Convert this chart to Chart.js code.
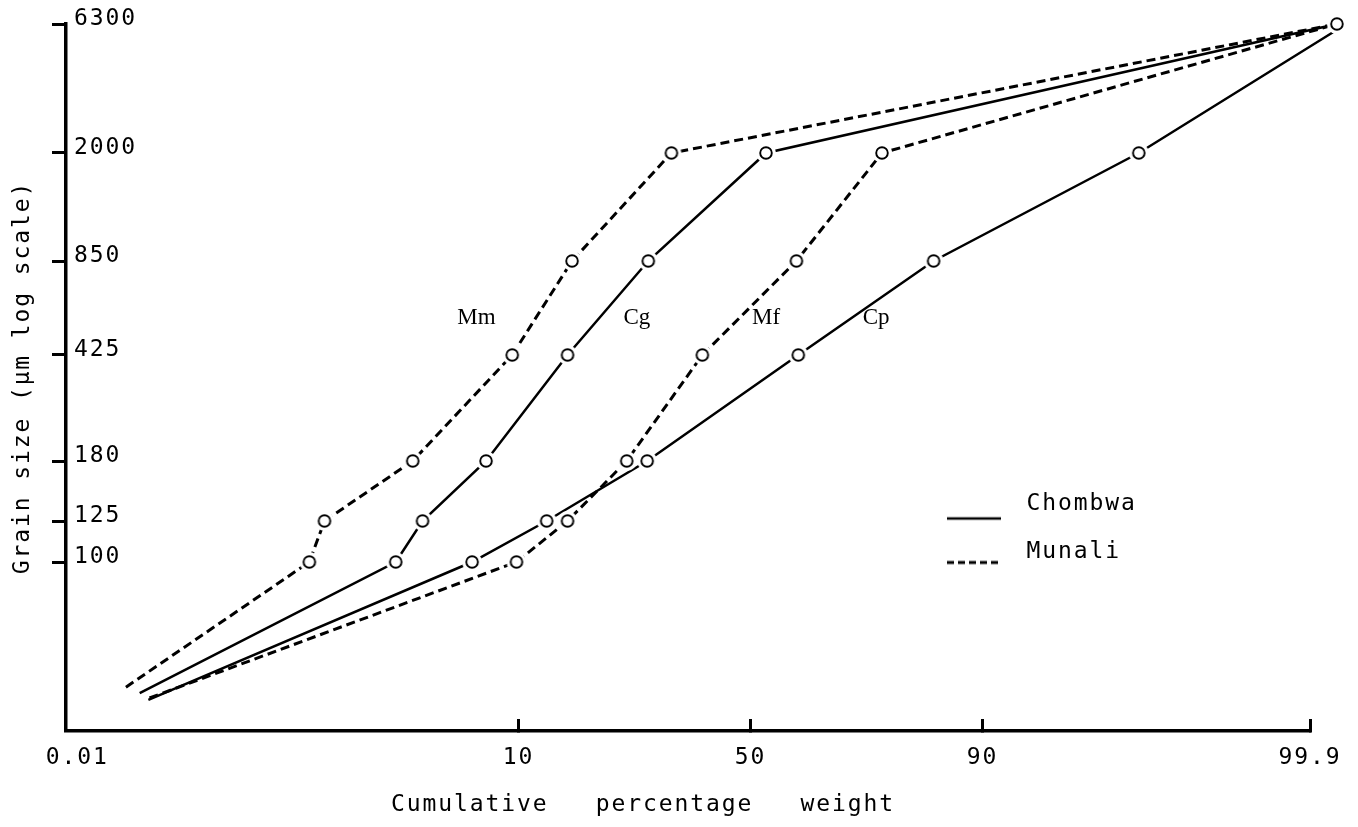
<!DOCTYPE html>
<html>
<head>
<meta charset="utf-8">
<script src="https://cdn.jsdelivr.net/npm/chart.js@4.4.1/dist/chart.umd.min.js"></script>
<style>
html,body{margin:0;padding:0;background:#fff;}
canvas{display:block;}
</style>
</head>
<body>
<canvas id="c" width="1358" height="827"></canvas>
<script>
// ---------------- data ----------------
const seriesNames = ['Mm', 'Cg', 'Mf', 'Cp'];
const seriesSite  = ['Munali', 'Chombwa', 'Munali', 'Chombwa'];

// cumulative percentage weight (%) and grain size (µm)
const mmPct  = [0.028, 0.74, 0.93, 3.1, 9.4, 16.2, 33.1, 99.94];
const mmSize = [50.6, 100, 125, 180, 425, 850, 2000, 6300];
const cgPct  = [0.037, 2.5, 3.5, 7.2, 15.6, 28.6, 53.4, 99.94];
const cgSize = [49, 100, 125, 180, 425, 850, 2000, 6300];
const mfPct  = [0.045, 9.8, 15.6, 24.7, 39.5, 60.0, 76.6, 99.94];
const mfSize = [47.7, 100, 125, 180, 425, 850, 2000, 6300];
const cpPct  = [0.044, 6.2, 13.0, 28.4, 60.4, 84.4, 98.4, 99.95];
const cpSize = [47.2, 100, 125, 180, 425, 850, 2000, 6300];

// axis definitions
const xTickPct    = [0.01, 10, 50, 90, 99.9];
const xTickLabels = ['0.01', '10', '50', '90', '99.9'];
const xAxisMinPct = 0.0078;
const yTickSizes  = [100, 125, 180, 425, 850, 2000, 6300];
const yTickLabels = ['100', '125', '180', '425', '850', '2000', '6300'];
// hand-ruled (non-uniform) positions of the sieve sizes on the original axis
const yTickLevels = [169, 210, 270, 376, 470, 578, 707];

// curve labels (placed in data space)
const labelPct  = [6.5, 26.5, 53.4, 75.6];
const labelSize = [560, 560, 560, 560];

const legendNames = ['Chombwa', 'Munali'];

// ---------------- transforms ----------------
function probit(p) {
  const a = [-3.969683028665376e+01, 2.209460984245205e+02, -2.759285104469687e+02, 1.383577518672690e+02, -3.066479806614716e+01, 2.506628277459239e+00];
  const b = [-5.447609879822406e+01, 1.615858368580409e+02, -1.556989798598866e+02, 6.680131188771972e+01, -1.328068155288572e+01];
  const c = [-7.784894002430293e-03, -3.223964580411365e-01, -2.400758277161838e+00, -2.549732539343734e+00, 4.374664141464968e+00, 2.938163982698783e+00];
  const d = [7.784695709041462e-03, 3.224671290700398e-01, 2.445134137142996e+00, 3.754408661907416e+00];
  const pl = 0.02425, ph = 1 - pl;
  let q, r;
  if (p < pl) {
    q = Math.sqrt(-2 * Math.log(p));
    return (((((c[0]*q+c[1])*q+c[2])*q+c[3])*q+c[4])*q+c[5]) / ((((d[0]*q+d[1])*q+d[2])*q+d[3])*q+1);
  }
  if (p > ph) {
    q = Math.sqrt(-2 * Math.log(1 - p));
    return -(((((c[0]*q+c[1])*q+c[2])*q+c[3])*q+c[4])*q+c[5]) / ((((d[0]*q+d[1])*q+d[2])*q+d[3])*q+1);
  }
  q = p - 0.5; r = q * q;
  return (((((a[0]*r+a[1])*r+a[2])*r+a[3])*r+a[4])*r+a[5])*q / (((((b[0]*r+b[1])*r+b[2])*r+b[3])*r+b[4])*r+1);
}
const pz = pct => probit(pct / 100);

function levelOf(size) {
  const ls = Math.log10(size);
  const L = yTickSizes.map(Math.log10);
  const n = L.length;
  let i = 0;
  if (ls <= L[0]) i = 0;
  else if (ls >= L[n - 1]) i = n - 2;
  else { while (i < n - 2 && ls > L[i + 1]) i++; }
  const t = (ls - L[i]) / (L[i + 1] - L[i]);
  return yTickLevels[i] + t * (yTickLevels[i + 1] - yTickLevels[i]);
}

function toPoints(pcts, sizes) {
  return pcts.map((p, i) => ({ x: pz(p), y: levelOf(sizes[i]) }));
}

// ---------------- styles ----------------
const FONT = "'DejaVu Sans Mono', 'Liberation Mono', monospace";
const FSIZE = 23;
const SPACING = '1.9px';
function ringImage() {
  const c = document.createElement('canvas');
  c.width = 24; c.height = 24;
  const g = c.getContext('2d');
  g.fillStyle = '#fff';
  g.beginPath(); g.arc(12, 12, 10, 0, Math.PI * 2); g.fill();
  g.strokeStyle = '#000'; g.lineWidth = 1.9;
  g.beginPath(); g.arc(12, 12, 5.8, 0, Math.PI * 2); g.stroke();
  return c;
}
function legendLineImage(dash, width, drop) {
  const c = document.createElement('canvas');
  c.width = 68; c.height = 44;
  const g = c.getContext('2d');
  g.strokeStyle = '#000'; g.lineWidth = width; g.setLineDash(dash);
  g.beginPath(); g.moveTo(0, 22 + drop); g.lineTo(54, 22 + drop); g.stroke();
  return c;
}
const ring = ringImage();
const legendImgs = [legendLineImage([], 2.4, 14), legendLineImage([7, 4], 2.8, 10)];
const styleFor = site => site === 'Munali'
  ? { borderDash: [9, 5], borderWidth: 3 }
  : { borderDash: [], borderWidth: 2.5 };

const allPct  = [mmPct, cgPct, mfPct, cpPct];
const allSize = [mmSize, cgSize, mfSize, cpSize];

const datasets = seriesNames.map((name, k) => Object.assign({
  label: name,
  data: toPoints(allPct[k], allSize[k]),
  showLine: true,
  borderColor: '#000',
  backgroundColor: '#000',
  tension: 0,
  clip: false,
  pointStyle: ring,
  pointRadius: ctx => ctx.dataIndex === 0 ? 0 : 30,
  pointHoverRadius: ctx => ctx.dataIndex === 0 ? 0 : 30,
  pointBorderWidth: 0
}, styleFor(seriesSite[k])));

// ---------------- plugins ----------------
const spacingPlugin = {
  id: 'spacing',
  beforeLayout(chart) { chart.ctx.letterSpacing = SPACING; },
  beforeDraw(chart) { chart.ctx.letterSpacing = SPACING; }
};
const placeLegend = {
  id: 'placeLegend',
  afterLayout(chart) {
    const lg = chart.legend;
    if (!lg) return;
    const w = lg.width;
    lg.left = chart.chartArea.left + 856;
    lg.right = lg.left + w;
    lg.top = chart.chartArea.top + 444;
    lg.bottom = chart.height;
  }
};
const curveLabels = {
  id: 'curveLabels',
  afterDatasetsDraw(chart) {
    const ctx = chart.ctx, xs = chart.scales.x, ys = chart.scales.y;
    ctx.save();
    ctx.letterSpacing = '0px';
    ctx.font = "23px 'Liberation Serif', 'DejaVu Serif', serif";
    ctx.fillStyle = '#000';
    ctx.textAlign = 'center';
    ctx.textBaseline = 'middle';
    seriesNames.forEach((n, i) => {
      ctx.fillText(n, xs.getPixelForValue(pz(labelPct[i])), ys.getPixelForValue(levelOf(labelSize[i])));
    });
    ctx.restore();
  }
};
const xTitle = {
  id: 'xTitle',
  afterDraw(chart) {
    const ctx = chart.ctx, a = chart.chartArea;
    ctx.save();
    ctx.letterSpacing = SPACING;
    ctx.font = FSIZE + 'px ' + FONT;
    ctx.fillStyle = '#000';
    ctx.textAlign = 'left';
    ctx.textBaseline = 'middle';
    ctx.fillText('Cumulative   percentage   weight', a.left + 325, chart.height - 22);
    ctx.restore();
  }
};

// ---------------- chart ----------------
new Chart(document.getElementById('c'), {
  type: 'scatter',
  data: { datasets },
  plugins: [spacingPlugin, placeLegend, curveLabels, xTitle],
  options: {
    responsive: false,
    animation: false,
    events: [],
    layout: { autoPadding: false, padding: { top: 24, right: 48, bottom: 0, left: 0 } },
    plugins: {
      tooltip: { enabled: false },
      legend: {
        display: true,
        position: 'chartArea',
        align: 'start',
        labels: {
          usePointStyle: true,
          pointStyleWidth: 68,
          padding: 25,
          color: '#000',
          font: { family: FONT, size: FSIZE },
          generateLabels: () => legendNames.map((t, i) => ({
            text: t, pointStyle: legendImgs[i], fillStyle: '#000', strokeStyle: '#000',
            fontColor: '#000', lineWidth: 0, hidden: false, datasetIndex: i
          }))
        }
      }
    },
    scales: {
      x: {
        type: 'linear',
        min: pz(xAxisMinPct),
        max: pz(xTickPct[xTickPct.length - 1]),
        afterBuildTicks: s => { s.ticks = xTickPct.map(p => ({ value: pz(p) })); },
        afterFit: s => { s.height = 96; s.paddingLeft = 0; s.paddingRight = 0; },
        ticks: {
          autoSkip: false, maxRotation: 0, padding: 25, color: '#000',
          font: { family: FONT, size: FSIZE },
          callback: (v, i) => xTickLabels[i]
        },
        grid: {
          drawOnChartArea: false, drawTicks: true, tickLength: -12, tickWidth: 3,
          tickColor: c => c.index === 0 ? 'rgba(0,0,0,0)' : '#000'
        },
        border: { display: true, color: '#000', width: 3.5 }
      },
      y: {
        type: 'linear',
        min: 0,
        max: yTickLevels[yTickLevels.length - 1],
        afterBuildTicks: s => { s.ticks = yTickSizes.map(v => ({ value: levelOf(v) })); },
        afterFit: s => { s.width = 66; s.paddingTop = 0; s.paddingBottom = 0; },
        ticks: {
          autoSkip: false, mirror: true, padding: 8, labelOffset: -5, color: '#000',
          font: { family: FONT, size: FSIZE },
          callback: (v, i) => yTickLabels[i]
        },
        grid: { drawOnChartArea: false, drawTicks: true, tickLength: 14, tickWidth: 3, tickColor: '#000' },
        border: { display: true, color: '#000', width: 3.5 },
        title: {
          display: true, text: 'Grain size (μm log scale)', color: '#000',
          font: { family: FONT, size: FSIZE }, padding: { top: 9, bottom: 0 }
        }
      }
    }
  }
});
</script>
</body>
</html>
